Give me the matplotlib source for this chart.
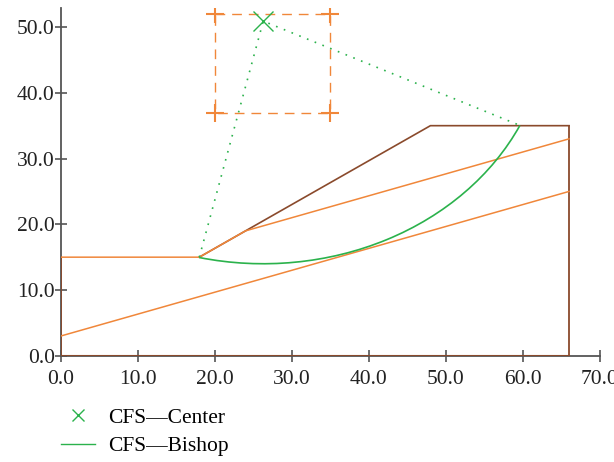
import numpy as np
import matplotlib
matplotlib.use("Agg")
import matplotlib.pyplot as plt
from matplotlib.patches import Arc
from matplotlib.lines import Line2D

plt.rcParams['font.family'] = ['Liberation Serif', 'DejaVu Serif']

# slope profile (brown)
face_x = [18, 48, 66]
face_y = [15, 35, 35]

# layer boundaries (orange)
upper_x = [0, 18, 24, 66]
upper_y = [15, 15, 19, 33]
lower_x = [0, 66]
lower_y = [3, 25]

# search grid for centres
grid_x = [20, 35, 35, 20, 20]
grid_y = [52, 52, 37, 37, 52]

# critical slip circle
center = (26.3, 50.9)
radius = 36.9
entry = (18, 15)
exit_pt = (59.7, 35)

xticks = [0, 10, 20, 30, 40, 50, 60, 70]
yticks = [0, 10, 20, 30, 40, 50]

brown = '#8a4a2c'
orange = '#f0873a'
green = '#2bb24c'
axis_grey = '#555555'

fig = plt.figure(figsize=(6.14, 4.62), dpi=100)
ax = fig.add_axes([0.0988, 0.2299, 0.8782, 0.7528])

# brown outline
ax.plot([0, 0], [0, 15], color=brown, lw=1.3, zorder=3)
ax.plot([0, 66], [0, 0], color=brown, lw=1.5, zorder=3)
ax.plot([66, 66], [0, 35], color=brown, lw=1.3, zorder=3)
ax.plot(face_x, face_y, color=brown, lw=1.2, zorder=3)

# orange lines
ax.plot(upper_x, upper_y, color=orange, lw=1.1, zorder=4)
ax.plot(lower_x, lower_y, color=orange, lw=1.1, zorder=4)

# grid box
ax.plot(grid_x, grid_y, color=orange, lw=1.0, ls=(0, (7, 5)), zorder=4)
ax.plot(grid_x[:4], grid_y[:4], ls='none', marker='+', ms=13, mew=1.5,
        color=orange, zorder=4)

# radii
ax.plot([entry[0], center[0], exit_pt[0]], [entry[1], center[1], exit_pt[1]],
        color=green, lw=1.2, ls=(0, (1, 4)), zorder=5)

# slip arc
t1 = np.degrees(np.arctan2(entry[1] - center[1], entry[0] - center[0])) % 360
t2 = np.degrees(np.arctan2(exit_pt[1] - center[1], exit_pt[0] - center[0])) % 360
ax.add_patch(Arc(center, 2 * radius, 2 * radius, theta1=t1, theta2=t2,
                 color=green, lw=1.2, zorder=6))

ax.plot([center[0]], [center[1]], ls='none', marker='x', ms=14, mew=1.0,
        color=green, zorder=6)

ax.set_xlim(0, 70)
ax.set_ylim(0, 52.9)
ax.set_xticks(xticks)
ax.set_yticks(yticks)
ax.set_xticklabels([f"{v:.1f}" for v in xticks])
ax.set_yticklabels([f"{v:.1f}" for v in yticks])
for s in ['top', 'right']:
    ax.spines[s].set_visible(False)
for s in ['left', 'bottom']:
    ax.spines[s].set_color(axis_grey)
    ax.spines[s].set_linewidth(1.3)
ax.tick_params(direction='inout', length=8.5, width=1.2, color=axis_grey,
               labelsize=15.5, labelcolor='#222222')
ax.tick_params(axis='x', pad=6)
ax.tick_params(axis='y', pad=0)
ax.patch.set_visible(False)

handles = [Line2D([], [], ls='none', marker='x', ms=9, mew=1.0, color=green),
           Line2D([], [], color=green, lw=1.0)]
fig.legend(handles, ['CFS\u2014Center', 'CFS\u2014Bishop'], loc='upper left',
           bbox_to_anchor=(0.099, 0.118), frameon=False, fontsize=15.5,
           handlelength=1.6, handletextpad=0.6, labelspacing=0.4,
           borderaxespad=0, borderpad=0)

fig.savefig('out.png', dpi=100)
